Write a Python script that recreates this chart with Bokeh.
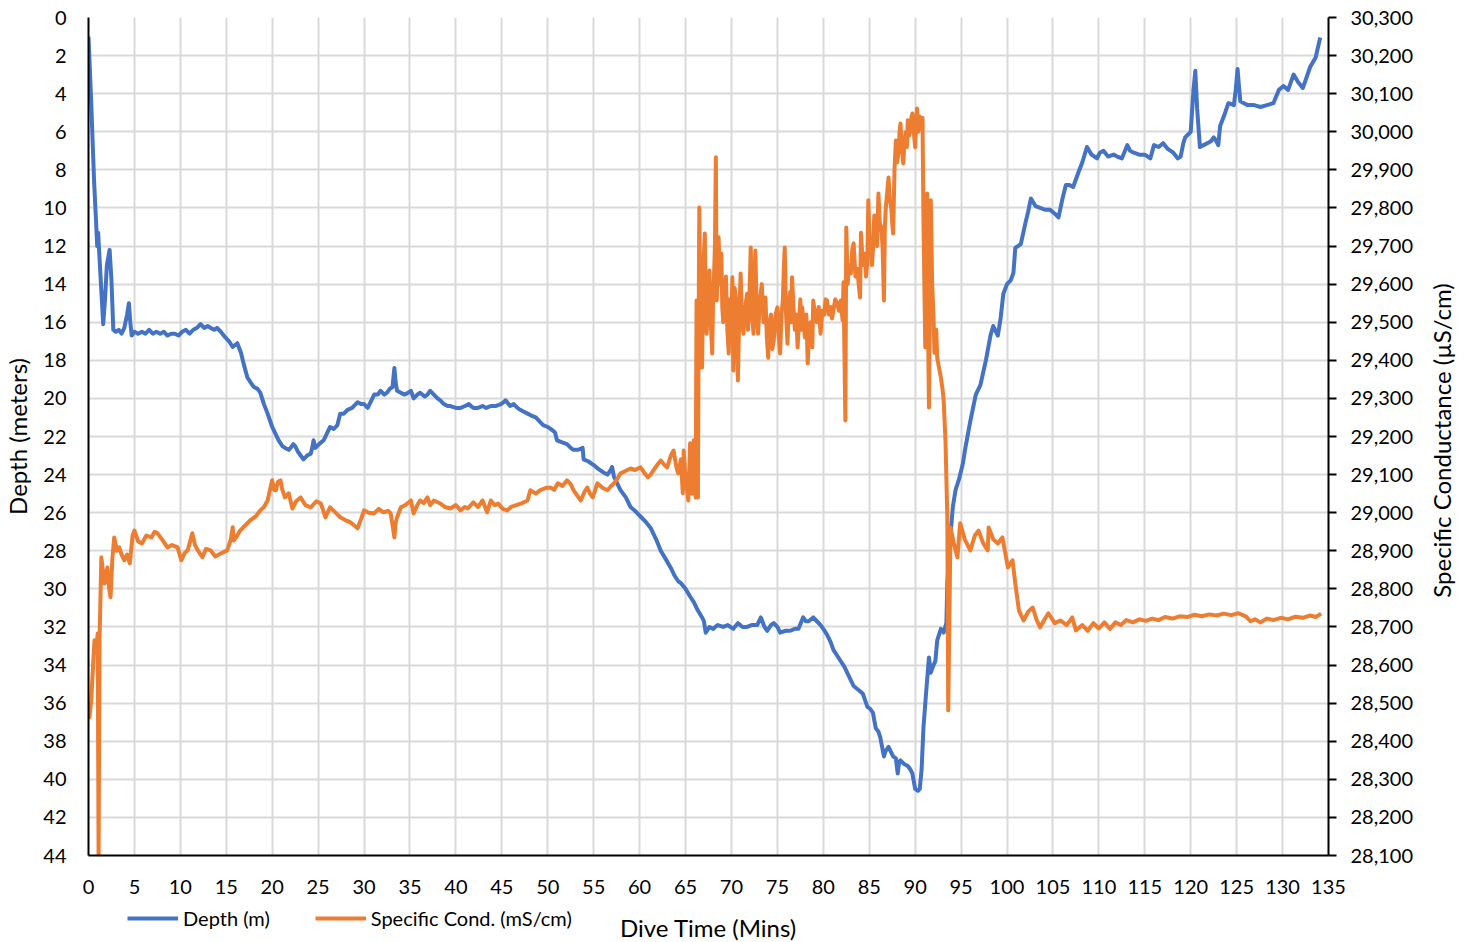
import math
from bokeh.plotting import figure
from bokeh.layouts import column, row
from bokeh.models import (Range1d, LinearAxis, FixedTicker, NumeralTickFormatter,
                          Legend, LegendItem, Label)
from bokeh.embed import file_html
from bokeh.resources import INLINE

# ---------------- data ----------------
# Depth (m) against dive time (min)
depth_points = [
    (0.0, 1.0), (0.3, 4.5), (0.6, 8.5), (0.85, 11.0), (0.95, 12.0), (1.05, 11.3), (1.15, 12.2), (1.3, 13.5),
    (1.6, 16.1), (1.8, 14.8), (2.0, 13.0), (2.3, 12.2), (2.5, 13.8), (2.7, 16.4), (3.0, 16.5), (3.3, 16.4),
    (3.6, 16.6), (3.9, 16.3), (4.2, 15.6), (4.4, 15.0), (4.55, 16.0), (4.7, 16.7), (5.0, 16.5), (5.4, 16.6),
    (5.8, 16.5), (6.2, 16.6), (6.6, 16.4), (7.0, 16.6), (7.4, 16.5), (7.8, 16.6), (8.2, 16.5), (8.6, 16.7),
    (9.0, 16.6), (9.4, 16.6), (9.8, 16.7), (10.2, 16.5), (10.6, 16.4), (11.0, 16.6), (11.4, 16.4),
    (11.8, 16.3), (12.2, 16.1), (12.6, 16.3), (13.0, 16.2), (13.3, 16.3), (13.7, 16.4), (14.0, 16.3),
    (14.4, 16.5), (14.9, 16.8), (15.3, 17.0), (15.7, 17.3), (16.2, 17.1), (16.6, 17.6), (16.9, 18.2),
    (17.3, 18.9), (17.7, 19.2), (18.0, 19.4), (18.4, 19.5), (18.7, 19.7), (19.1, 20.3), (19.5, 20.8),
    (20.0, 21.5), (20.4, 21.9), (20.7, 22.2), (21.1, 22.5), (21.4, 22.6), (21.8, 22.7), (22.0, 22.6),
    (22.3, 22.4), (22.5, 22.5), (22.8, 22.8), (23.1, 23.0), (23.4, 23.2), (23.8, 23.0), (24.2, 22.9),
    (24.4, 22.5), (24.5, 22.2), (24.7, 22.6), (25.1, 22.4), (25.6, 22.2), (26.0, 21.8), (26.3, 21.5),
    (26.7, 21.6), (27.1, 21.4), (27.4, 20.8), (27.8, 20.8), (28.2, 20.6), (28.7, 20.5), (29.3, 20.2),
    (29.7, 20.3), (30.0, 20.3), (30.4, 20.5), (30.8, 20.1), (31.1, 19.8), (31.5, 19.8), (31.8, 19.6),
    (32.2, 19.8), (32.5, 19.7), (32.8, 19.5), (33.1, 19.4), (33.3, 18.4), (33.45, 19.2), (33.6, 19.6),
    (34.0, 19.7), (34.4, 19.8), (34.8, 19.7), (35.1, 19.6), (35.4, 20.0), (35.8, 19.8), (36.1, 19.7),
    (36.6, 19.9), (36.9, 19.8), (37.2, 19.6), (37.6, 19.8), (38.0, 20.0), (38.3, 20.1), (38.7, 20.3),
    (39.1, 20.4), (39.4, 20.4), (40.0, 20.5), (40.5, 20.5), (41.0, 20.4), (41.4, 20.3), (41.9, 20.5),
    (42.4, 20.5), (42.9, 20.4), (43.3, 20.5), (43.8, 20.4), (44.3, 20.4), (44.9, 20.3), (45.2, 20.2),
    (45.4, 20.1), (45.9, 20.4), (46.3, 20.3), (46.7, 20.5), (47.0, 20.6), (47.4, 20.7), (47.8, 20.8),
    (48.2, 20.9), (48.7, 21.0), (49.1, 21.2), (49.5, 21.4), (50.0, 21.5), (50.6, 21.7), (50.8, 21.8),
    (51.0, 22.2), (51.5, 22.3), (52.1, 22.4), (52.5, 22.6), (52.8, 22.7), (53.3, 22.7), (53.8, 22.6),
    (53.9, 23.2), (54.4, 23.3), (55.0, 23.5), (55.5, 23.7), (56.1, 23.9), (56.5, 24.0), (56.8, 23.8),
    (57.0, 23.6), (57.2, 24.1), (57.6, 24.5), (57.9, 24.8), (58.5, 25.2), (59.0, 25.7), (59.5, 25.9),
    (60.1, 26.2), (60.7, 26.5), (61.2, 26.8), (61.8, 27.4), (62.3, 28.0), (62.8, 28.4), (63.4, 28.9),
    (63.8, 29.3), (64.2, 29.6), (64.5, 29.7), (65.0, 30.0), (65.5, 30.4), (65.9, 30.7), (66.3, 31.1),
    (66.8, 31.5), (67.0, 31.7), (67.2, 32.3), (67.6, 32.0), (68.0, 32.1), (68.5, 31.9), (69.1, 32.0),
    (69.6, 31.9), (70.2, 32.1), (70.7, 31.8), (71.2, 32.0), (71.7, 32.0), (72.2, 31.9), (72.8, 31.9),
    (73.2, 31.5), (73.6, 32.0), (73.9, 32.2), (74.3, 31.9), (74.6, 31.8), (75.0, 32.0), (75.3, 32.3),
    (75.9, 32.2), (76.4, 32.2), (76.9, 32.1), (77.3, 32.1), (77.8, 31.5), (78.1, 31.7), (78.4, 31.7),
    (78.9, 31.5), (79.3, 31.7), (79.7, 31.9), (80.0, 32.1), (80.4, 32.4), (80.8, 32.8), (81.1, 33.2),
    (81.5, 33.5), (81.9, 33.8), (82.3, 34.1), (82.6, 34.4), (83.0, 34.8), (83.3, 35.1), (83.8, 35.3),
    (84.3, 35.5), (84.8, 36.2), (85.1, 36.3), (85.4, 36.5), (85.7, 37.3), (86.0, 37.5), (86.2, 37.8),
    (86.4, 38.3), (86.6, 38.8), (86.8, 38.5), (87.1, 38.3), (87.4, 38.6), (87.6, 38.8), (87.9, 38.9),
    (88.1, 39.7), (88.25, 39.1), (88.4, 39.0), (88.8, 39.2), (89.2, 39.3), (89.5, 39.5), (89.7, 39.7),
    (90.0, 40.5), (90.3, 40.6), (90.5, 40.5), (90.7, 39.5), (90.9, 37.3), (91.2, 35.4), (91.5, 33.6),
    (91.7, 34.4), (92.0, 34.0), (92.2, 33.8), (92.4, 32.7), (92.8, 32.1), (93.1, 32.3), (93.4, 31.8),
    (93.5, 29.7), (93.8, 27.5), (94.1, 25.7), (94.4, 24.8), (94.8, 24.2), (95.2, 23.4), (95.5, 22.5),
    (96.0, 21.2), (96.6, 19.8), (97.1, 19.3), (97.7, 18.0), (98.2, 16.7), (98.5, 16.2), (99.0, 16.7),
    (99.3, 15.8), (99.6, 14.5), (100.0, 14.0), (100.4, 13.8), (100.7, 13.4), (100.9, 12.1), (101.5, 11.9),
    (102.0, 10.8), (102.3, 10.2), (102.6, 9.5), (103.1, 9.9), (103.6, 10.0), (104.2, 10.1), (104.7, 10.1),
    (105.2, 10.3), (105.6, 10.5), (106.0, 9.6), (106.4, 8.8), (106.8, 8.8), (107.2, 8.9), (107.8, 8.1),
    (108.2, 7.6), (108.7, 6.8), (109.2, 7.2), (109.8, 7.4), (110.1, 7.1), (110.5, 7.0), (111.0, 7.3),
    (111.6, 7.2), (112.0, 7.3), (112.5, 7.4), (113.1, 6.7), (113.4, 7.0), (113.8, 7.1), (114.4, 7.2),
    (115.0, 7.2), (115.6, 7.4), (116.0, 6.7), (116.5, 6.8), (117.0, 6.6), (117.5, 6.9), (118.1, 7.1),
    (118.6, 7.4), (118.9, 7.3), (119.2, 6.6), (119.4, 6.3), (120.0, 6.0), (120.3, 3.8), (120.5, 2.8),
    (120.7, 4.8), (121.0, 6.8), (121.4, 6.7), (121.8, 6.6), (122.2, 6.5), (122.5, 6.3), (122.8, 6.5),
    (123.0, 6.7), (123.2, 5.7), (123.6, 5.2), (124.1, 4.5), (124.7, 4.6), (124.9, 3.8), (125.1, 2.7),
    (125.25, 3.6), (125.4, 4.4), (125.8, 4.5), (126.2, 4.6), (126.9, 4.6), (127.6, 4.7), (128.3, 4.6),
    (129.0, 4.5), (129.6, 3.8), (130.1, 3.6), (130.6, 3.8), (131.2, 3.0), (131.7, 3.4), (132.2, 3.7),
    (132.5, 3.3), (133.0, 2.6), (133.6, 2.1), (134.1, 1.05),
]

# Specific conductance (uS/cm) against dive time (min)
cond_points = [
    (0.0, 28480), (0.1, 28463), (0.3, 28507), (0.5, 28600), (0.65, 28665), (0.85, 28640), (1.0, 28683),
    (1.1, 28100), (1.2, 28665), (1.4, 28883), (1.6, 28840), (1.75, 28814), (2.05, 28856), (2.25, 28800),
    (2.4, 28778), (2.6, 28880), (2.8, 28935), (3.1, 28900), (3.35, 28909), (3.6, 28890), (3.9, 28875),
    (4.2, 28890), (4.5, 28867), (4.8, 28940), (5.0, 28953), (5.4, 28925), (5.8, 28919), (6.3, 28940),
    (6.85, 28935), (7.2, 28950), (7.5, 28946), (8.0, 28930), (8.6, 28909), (9.1, 28915), (9.7, 28909),
    (10.1, 28875), (10.5, 28895), (10.8, 28901), (11.3, 28946), (11.6, 28915), (11.9, 28901),
    (12.4, 28883), (12.8, 28905), (13.3, 28901), (13.8, 28885), (14.4, 28893), (15.1, 28901),
    (15.5, 28930), (15.7, 28962), (15.8, 28927), (16.2, 28940), (16.5, 28953), (17.0, 28965),
    (17.6, 28980), (18.2, 28990), (18.7, 29006), (19.1, 29015), (19.5, 29032), (20.0, 29085),
    (20.2, 29060), (20.4, 29059), (20.6, 29080), (20.9, 29085), (21.1, 29060), (21.4, 29040),
    (21.8, 29051), (22.2, 29011), (22.6, 29030), (23.1, 29040), (23.6, 29020), (24.2, 29014),
    (24.8, 29030), (25.3, 29024), (25.8, 28988), (26.3, 29014), (26.9, 29000), (27.4, 28988),
    (28.0, 28980), (28.5, 28975), (29.0, 28965), (29.3, 28959), (29.7, 28985), (30.0, 29006),
    (30.5, 29000), (31.1, 28998), (31.6, 29010), (32.1, 29001), (32.6, 29005), (32.9, 28998),
    (33.15, 28960), (33.3, 28935), (33.45, 28975), (33.6, 28988), (34.0, 29014), (34.5, 29020),
    (35.1, 29032), (35.4, 28998), (35.8, 29020), (36.1, 29032), (36.5, 29025), (36.9, 29040),
    (37.2, 29020), (37.6, 29032), (38.3, 29024), (38.8, 29015), (39.4, 29011), (40.0, 29020),
    (40.5, 29006), (41.0, 29015), (41.3, 29011), (41.9, 29027), (42.4, 29015), (42.9, 29032),
    (43.4, 29001), (43.8, 29032), (44.2, 29020), (44.6, 29024), (45.1, 29010), (45.6, 29006),
    (46.0, 29015), (46.5, 29019), (47.2, 29025), (47.8, 29032), (48.1, 29059), (48.7, 29050),
    (49.2, 29059), (49.8, 29065), (50.3, 29066), (50.7, 29060), (51.1, 29077), (51.6, 29070),
    (52.1, 29085), (52.5, 29075), (52.8, 29059), (53.2, 29045), (53.6, 29032), (54.0, 29055),
    (54.3, 29066), (54.6, 29050), (54.9, 29040), (55.4, 29077), (56.0, 29065), (56.5, 29059),
    (56.9, 29070), (57.2, 29077), (57.6, 29090), (57.9, 29103), (58.5, 29110), (59.0, 29116),
    (59.5, 29112), (60.1, 29119), (60.5, 29105), (60.9, 29093), (61.2, 29100), (61.5, 29111),
    (61.9, 29125), (62.3, 29137), (62.7, 29125), (63.0, 29119), (63.4, 29150), (63.7, 29163),
    (64.0, 29120), (64.2, 29103), (64.5, 29140), (64.7, 29051), (64.8, 29163), (65.0, 29090),
    (65.3, 29032), (65.5, 29182), (65.7, 29050), (65.9, 29190), (66.1, 29040), (66.2, 29557),
    (66.3, 29300), (66.35, 29040), (66.45, 29600), (66.5, 29801), (66.65, 29450), (66.8, 29381),
    (66.95, 29650), (67.1, 29733), (67.2, 29520), (67.3, 29470), (67.45, 29580), (67.6, 29636),
    (67.75, 29500), (67.9, 29418), (68.0, 29560), (68.1, 29620), (68.2, 29700), (68.3, 29933),
    (68.35, 29700), (68.4, 29557), (68.5, 29650), (68.6, 29723), (68.75, 29600), (68.9, 29680),
    (69.0, 29540), (69.1, 29500), (69.25, 29560), (69.4, 29620), (69.55, 29480), (69.7, 29418),
    (69.85, 29560), (70.0, 29520), (70.1, 29618), (70.2, 29373), (70.35, 29590), (70.5, 29560),
    (70.6, 29450), (70.7, 29347), (70.85, 29520), (71.0, 29628), (71.15, 29500), (71.3, 29470),
    (71.5, 29540), (71.7, 29575), (71.8, 29480), (71.9, 29520), (72.1, 29696), (72.25, 29520),
    (72.4, 29470), (72.5, 29600), (72.6, 29688), (72.75, 29530), (72.9, 29470), (73.1, 29560),
    (73.3, 29600), (73.5, 29500), (73.7, 29565), (73.85, 29460), (74.0, 29407), (74.15, 29500),
    (74.3, 29520), (74.45, 29430), (74.6, 29452), (74.8, 29520), (75.0, 29539), (75.15, 29460),
    (75.3, 29418), (75.45, 29520), (75.6, 29560), (75.7, 29640), (75.8, 29696), (75.95, 29520),
    (76.1, 29444), (76.25, 29540), (76.4, 29580), (76.5, 29500), (76.6, 29618), (76.75, 29540),
    (76.9, 29480), (77.05, 29520), (77.2, 29434), (77.35, 29500), (77.5, 29560), (77.6, 29480),
    (77.7, 29539), (77.85, 29500), (78.0, 29460), (78.15, 29520), (78.3, 29392), (78.45, 29470),
    (78.6, 29500), (78.7, 29460), (78.8, 29434), (78.9, 29557), (79.1, 29520), (79.3, 29500),
    (79.5, 29540), (79.7, 29470), (79.9, 29530), (80.1, 29520), (80.25, 29560), (80.4, 29557),
    (80.6, 29520), (80.8, 29540), (80.95, 29510), (81.1, 29531), (81.3, 29560), (81.5, 29550),
    (81.7, 29530), (81.9, 29557), (82.1, 29505), (82.2, 29605), (82.4, 29242), (82.5, 29749),
    (82.65, 29600), (82.8, 29650), (83.0, 29628), (83.15, 29690), (83.3, 29707), (83.5, 29620),
    (83.7, 29640), (83.85, 29600), (84.0, 29565), (84.1, 29735), (84.3, 29650), (84.5, 29680),
    (84.65, 29620), (84.8, 29662), (84.9, 29820), (85.05, 29700), (85.2, 29700), (85.3, 29650),
    (85.4, 29688), (85.55, 29780), (85.7, 29760), (85.85, 29700), (86.0, 29838), (86.15, 29760),
    (86.3, 29750), (86.45, 29700), (86.6, 29557), (86.7, 29750), (86.8, 29800), (86.95, 29840),
    (87.1, 29880), (87.25, 29820), (87.4, 29800), (87.5, 29760), (87.6, 29733), (87.75, 29900),
    (87.9, 29977), (88.05, 29920), (88.2, 29950), (88.3, 30000), (88.4, 30022), (88.55, 29960),
    (88.7, 29917), (88.85, 29980), (89.0, 30000), (89.1, 29960), (89.2, 30030), (89.35, 29990),
    (89.5, 30010), (89.6, 30040), (89.7, 30048), (89.85, 30000), (90.0, 29959), (90.1, 30020),
    (90.2, 30061), (90.35, 30000), (90.5, 30040), (90.65, 30010), (90.8, 30037), (90.9, 29775),
    (91.0, 29600), (91.1, 29434), (91.2, 29600), (91.3, 29838), (91.4, 29500), (91.5, 29276),
    (91.6, 29550), (91.7, 29820), (91.85, 29600), (92.0, 29513), (92.1, 29420), (92.2, 29450),
    (92.3, 29480), (92.4, 29407), (92.6, 29380), (92.8, 29355), (93.0, 29320), (93.1, 29295),
    (93.3, 29190), (93.5, 28988), (93.6, 28481), (93.85, 28961), (94.2, 28920), (94.6, 28883),
    (94.9, 28972), (95.4, 28930), (96.0, 28901), (96.5, 28940), (96.9, 28953), (97.4, 28920),
    (97.9, 28901), (98.0, 28961), (98.5, 28930), (99.0, 28919), (99.5, 28935), (100.1, 28856),
    (100.6, 28875), (100.9, 28814), (101.3, 28743), (101.8, 28717), (102.3, 28740), (102.8, 28751),
    (103.2, 28720), (103.6, 28699), (104.1, 28720), (104.5, 28736), (105.2, 28710), (105.8, 28717),
    (106.5, 28705), (107.1, 28725), (107.5, 28691), (108.2, 28705), (108.8, 28690), (109.4, 28710),
    (110.0, 28696), (110.6, 28712), (111.2, 28695), (111.8, 28712), (112.4, 28705), (113.0, 28718),
    (113.7, 28712), (114.4, 28720), (115.1, 28716), (115.8, 28722), (116.5, 28718), (117.2, 28726),
    (118.0, 28722), (118.8, 28728), (119.6, 28726), (120.4, 28732), (121.2, 28728), (122.0, 28733),
    (122.8, 28730), (123.6, 28735), (124.4, 28731), (125.2, 28736), (126.0, 28728), (126.5, 28715),
    (127.0, 28720), (127.6, 28712), (128.3, 28722), (129.0, 28718), (129.8, 28724), (130.6, 28720),
    (131.4, 28727), (132.2, 28724), (133.0, 28730), (133.6, 28726), (134.2, 28735),
]

depth_time = [t for t, _ in depth_points]
depth_m = [d for _, d in depth_points]
cond_time = [t for t, _ in cond_points]
cond_us = [c for _, c in cond_points]

x_ticks = list(range(0, 136, 5))
depth_ticks = list(range(0, 45, 2))
cond_ticks = list(range(28100, 30301, 100))

series_names = ["Depth (m)", "Specific Cond. (mS/cm)"]
x_title = "Dive Time (Mins)"
left_title = "Depth (meters)"
right_title = "Specific Conductance (\u00b5S/cm)"

BLUE = "#4472C4"
ORANGE = "#ED7D31"
FONT = "Lato"
GRID = "#d9d9d9"
TITLE_SIZE = "24px"
W = 1460                 # whole page width used
PW = 1425                # main figure width; the rest holds the right title
MH = 900                 # main figure height
SH = 42                  # strip (legend + x title) height
FRAME_L, FRAME_R = 88, 1328
FRAME_T, FRAME_B = 17, 855

# ---------------- main figure ----------------
p = figure(width=PW, height=MH, output_backend="svg", toolbar_location=None,
           x_range=Range1d(0, 135), y_range=Range1d(44, 0),
           min_border_left=FRAME_L, min_border_right=PW - FRAME_R, min_border_top=FRAME_T,
           min_border_bottom=MH - FRAME_B)
p.outline_line_color = None
p.background_fill_color = "white"
p.border_fill_color = "white"
p.extra_y_ranges = {"cond": Range1d(28100, 30300)}

p.xgrid.ticker = FixedTicker(ticks=x_ticks)
p.ygrid.ticker = FixedTicker(ticks=depth_ticks)
for g in (p.xgrid, p.ygrid):
    g.grid_line_color = GRID
    g.grid_line_width = 2


def style_axis(ax, size="20px"):
    ax.axis_line_color = "black"
    ax.axis_line_width = 2
    ax.major_tick_in = 0
    ax.minor_tick_in = 0
    ax.minor_tick_out = 0
    ax.major_label_text_font = FONT
    ax.major_label_text_font_size = size
    ax.major_label_text_color = "black"
    ax.axis_label_text_font = FONT
    ax.axis_label_text_font_size = TITLE_SIZE
    ax.axis_label_text_font_style = "normal"
    ax.axis_label_text_color = "black"


xa = p.xaxis[0]
style_axis(xa)
xa.ticker = FixedTicker(ticks=x_ticks)
xa.major_tick_out = 0
xa.major_label_standoff = 24

ya = p.yaxis[0]
style_axis(ya)
ya.ticker = FixedTicker(ticks=depth_ticks)
ya.major_tick_out = 0
ya.major_label_standoff = 22
ya.axis_label = left_title
ya.axis_label_standoff = 8

ra = LinearAxis(y_range_name="cond", ticker=FixedTicker(ticks=cond_ticks),
                formatter=NumeralTickFormatter(format="0,0"))
style_axis(ra)
ra.major_tick_out = 8
ra.major_tick_line_width = 2
ra.major_tick_line_color = "black"
ra.major_label_standoff = 14
p.add_layout(ra, "right")

r_depth = p.line(depth_time, depth_m, line_color=BLUE, line_width=4, line_join="round")
r_cond = p.line(cond_time, cond_us, line_color=ORANGE, line_width=4, line_join="round",
                y_range_name="cond")

# ---------------- narrow figure on the right: right axis title ----------------
# its ranges are given in page pixels so the title sits where the reference has it
r = figure(width=W - PW, height=MH, output_backend="svg", toolbar_location=None,
           x_range=Range1d(PW, W), y_range=Range1d(FRAME_B, FRAME_T),
           x_axis_location=None, y_axis_location=None,
           min_border_left=0, min_border_right=0, min_border_top=FRAME_T,
           min_border_bottom=MH - FRAME_B)
r.outline_line_color = None
r.grid.visible = False
r.background_fill_color = "white"
r.border_fill_color = "white"
r.add_layout(Label(x=1441, y=(FRAME_T + FRAME_B) / 2 + 4, text=right_title, angle=math.pi / 2,
                   text_align="center", text_baseline="middle", text_font=FONT,
                   text_font_size=TITLE_SIZE, text_color="black"))

# ---------------- strip below: legend + x axis title ----------------
# its frame lines up with the main frame, so its x range is given in page pixels
s = figure(width=W, height=SH, output_backend="svg", toolbar_location=None,
           x_range=Range1d(FRAME_L, FRAME_R), y_range=Range1d(0, SH),
           x_axis_location=None, y_axis_location=None,
           min_border_left=FRAME_L, min_border_right=W - FRAME_R, min_border_top=0,
           min_border_bottom=0)
s.outline_line_color = None
s.grid.visible = False
s.background_fill_color = "white"
s.border_fill_color = "white"

d_depth = s.line([-20, -10], [-20, -20], line_color=BLUE, line_width=4)
d_cond = s.line([-20, -10], [-20, -20], line_color=ORANGE, line_width=4)

legend = Legend(items=[LegendItem(label=series_names[0], renderers=[d_depth]),
                       LegendItem(label=series_names[1], renderers=[d_cond])],
                location=(127 - FRAME_L, 12), orientation="horizontal",
                glyph_width=51, glyph_height=20, label_standoff=5, spacing=45,
                padding=0, margin=0, border_line_color=None, background_fill_alpha=0,
                label_text_font=FONT, label_text_font_size="20px", label_text_color="black")
s.add_layout(legend, "center")

s.add_layout(Label(x=(FRAME_L + FRAME_R) / 2, y=SH - 27, text=x_title, text_align="center",
                   text_baseline="middle", text_font=FONT, text_font_size=TITLE_SIZE,
                   text_color="black"))

layout = column(row(p, r, spacing=0), s, spacing=0)
open("out.html", "w").write(file_html(layout, INLINE))
